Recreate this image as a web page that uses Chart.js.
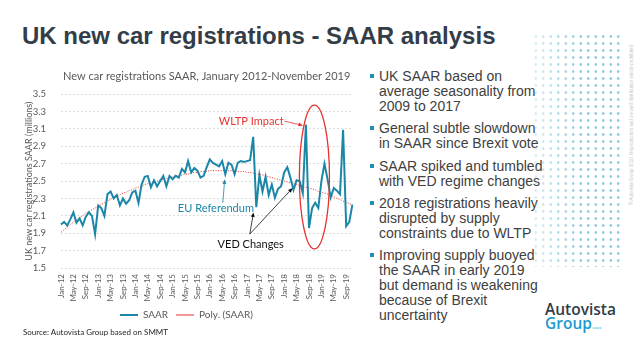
<!DOCTYPE html>
<html>
<head>
<meta charset="utf-8">
<script src="https://cdn.jsdelivr.net/npm/chart.js@4"></script>
<style>
  html, body { margin: 0; padding: 0; }
  body { width: 640px; height: 360px; position: relative; overflow: hidden; background: #fff; font-family: "Liberation Sans", Arial, sans-serif; }
  #title { position: absolute; left: 22px; top: 24px; font-size: 24px; line-height: 24px; font-weight: bold; color: #333d47; white-space: nowrap; }
  #chartBox { position: absolute; left: 20px; top: 60px; width: 342px; height: 270px; }
  #source { position: absolute; left: 23px; top: 327px; font-family: Lato, sans-serif; font-size: 8px; color: #262626; }
  #points { position: absolute; left: 368px; top: 69px; width: 180px; color: #404040; font-size: 14px; line-height: 15px; }
  #points p { margin: 0 0 7.3px 11px; width: 166px; position: relative; }
  #points p::before { content: ""; position: absolute; left: -9px; top: 5px; width: 4px; height: 4px; background: #1f8fb8; }
  #dots { position: absolute; left: 532px; top: 33px; width: 90px; height: 234px;
          background-image: radial-gradient(circle, #7ec4da 1px, transparent 1.5px);
          background-size: 7.5px 7px;
          -webkit-mask-image: linear-gradient(to right, rgba(0,0,0,0.3), #000 55%); }
  #legal { position: absolute; left: 629px; top: 205px; transform-origin: 0 0; transform: rotate(-90deg); font-size: 4.5px; color: #c8c8c8; white-space: nowrap; }
  #logo { position: absolute; left: 545px; top: 302px; font-family: "Open Sans", sans-serif; font-weight: 600; font-size: 15.5px; line-height: 14px; color: #2f3d48; }
  #logo .g { color: #1d9ad0; }
  #logo .d { color: #8fd0e8; font-size: 12px; letter-spacing: -1px; }
</style>
</head>
<body>
<div id="title">UK new car registrations - SAAR analysis</div>
<div id="chartBox"><canvas id="saarChart"></canvas></div>
<div id="source">Source: Autovista Group based on SMMT</div>
<div id="points">
  <p>UK SAAR based on average seasonality from 2009 to 2017</p>
  <p>General subtle slowdown in SAAR since Brexit vote</p>
  <p>SAAR spiked and tumbled with VED regime changes</p>
  <p>2018 registrations heavily disrupted by supply constraints due to WLTP</p>
  <p>Improving supply buoyed the SAAR in early 2019 but demand is weakening because of Brexit uncertainty</p>
</div>
<div id="dots"></div>
<div id="legal">© Autovista Group 2019. Reproduction and onward distribution strictly prohibited</div>
<div id="logo">Autovista<br><span class="g">Group</span><span class="d">....</span></div>

<script>
// categories: Jan-12 .. Nov-19
const monthNames = ["Jan","Feb","Mar","Apr","May","Jun","Jul","Aug","Sep","Oct","Nov","Dec"];
const years = ["12","13","14","15","16","17","18","19"];
const months = [];
years.forEach(y => monthNames.forEach(m => months.push(m + "-" + y)));
months.length = 95;

// SAAR, millions
const saar = [
  2.00, 2.03, 1.99, 2.06, 2.14, 2.02, 2.07, 1.99, 2.09, 2.14, 2.10, 1.89,
  2.22, 2.19, 2.10, 2.35, 2.38, 2.30, 2.34, 2.22, 2.30, 2.24, 2.28, 2.37,
  2.39, 2.25, 2.46, 2.55, 2.56, 2.43, 2.51, 2.44, 2.50, 2.56, 2.44, 2.56,
  2.52, 2.56, 2.54, 2.64, 2.60, 2.73, 2.60, 2.65, 2.62, 2.54, 2.56, 2.66,
  2.75, 2.71, 2.69, 2.67, 2.73, 2.58, 2.71, 2.69, 2.58, 2.71, 2.73, 2.72,
  2.73, 2.74, 3.01, 2.20, 2.57, 2.38, 2.55, 2.34, 2.46, 2.31, 2.41, 2.44,
  2.60, 2.66, 2.54, 2.40, 2.51, 2.50, 2.36, 3.15, 1.96, 2.19, 2.25, 2.19,
  2.50, 2.70, 2.52, 2.31, 2.42, 2.39, 2.35, 3.09, 1.98, 2.03, 2.23
];

// Poly. (SAAR) trend line as drawn
const polyTrend = [
  1.91, 1.94, 1.97, 2.00, 2.03, 2.05, 2.08, 2.10, 2.13, 2.15, 2.17, 2.19,
  2.21, 2.23, 2.25, 2.27, 2.29, 2.31, 2.32, 2.34, 2.36, 2.37, 2.39, 2.40,
  2.42, 2.43, 2.44, 2.46, 2.47, 2.48, 2.49, 2.50, 2.51, 2.52, 2.53, 2.54,
  2.55, 2.56, 2.56, 2.57, 2.58, 2.58, 2.59, 2.60, 2.60, 2.61, 2.61, 2.61,
  2.62, 2.62, 2.62, 2.62, 2.62, 2.62, 2.62, 2.62, 2.62, 2.61, 2.61, 2.61,
  2.60, 2.60, 2.59, 2.58, 2.58, 2.57, 2.56, 2.55, 2.54, 2.53, 2.52, 2.51,
  2.50, 2.49, 2.48, 2.47, 2.46, 2.45, 2.44, 2.43, 2.42, 2.41, 2.40, 2.38,
  2.37, 2.36, 2.35, 2.33, 2.32, 2.30, 2.29, 2.27, 2.26, 2.24, 2.23
];

const yTicks = [1.5, 1.7, 1.9, 2.1, 2.3, 2.5, 2.7, 2.9, 3.1, 3.3, 3.5];

const TEAL = "#1b87a8";
const RED = "#e8312f";
const GREY = "#595959";

function arrow(ctx, x1, y1, x2, y2, color) {
  const a = Math.atan2(y2 - y1, x2 - x1);
  ctx.strokeStyle = color;
  ctx.fillStyle = color;
  ctx.lineWidth = 0.8;
  ctx.beginPath();
  ctx.moveTo(x1, y1);
  ctx.lineTo(x2 - 3 * Math.cos(a), y2 - 3 * Math.sin(a));
  ctx.stroke();
  ctx.beginPath();
  ctx.moveTo(x2, y2);
  ctx.lineTo(x2 - 5 * Math.cos(a - 0.4), y2 - 5 * Math.sin(a - 0.4));
  ctx.lineTo(x2 - 5 * Math.cos(a + 0.4), y2 - 5 * Math.sin(a + 0.4));
  ctx.closePath();
  ctx.fill();
}

// callouts, placed in data space (month index, SAAR value)
const callouts = {
  id: "callouts",
  afterDatasetsDraw(chart) {
    const { ctx, scales: { x, y } } = chart;
    ctx.save();
    ctx.font = "11px Lato";
    ctx.textBaseline = "middle";

    // WLTP ellipse
    const l = x.getPixelForValue(76.9), r = x.getPixelForValue(86.6);
    const t = y.getPixelForValue(3.375), b = y.getPixelForValue(1.72);
    ctx.strokeStyle = RED;
    ctx.lineWidth = 1.3;
    ctx.beginPath();
    ctx.ellipse((l + r) / 2, (t + b) / 2, (r - l) / 2, (b - t) / 2, 0, 0, Math.PI * 2);
    ctx.stroke();

    ctx.fillStyle = RED;
    ctx.textAlign = "right";
    ctx.fillText("WLTP Impact", x.getPixelForValue(71.8), y.getPixelForValue(3.19));
    arrow(ctx, x.getPixelForValue(72.1), y.getPixelForValue(3.19), x.getPixelForValue(78.1), y.getPixelForValue(3.14), RED);

    ctx.fillStyle = TEAL;
    ctx.textAlign = "left";
    ctx.fillText("EU Referendum", x.getPixelForValue(37.7), y.getPixelForValue(2.19));
    arrow(ctx, x.getPixelForValue(52.2), y.getPixelForValue(2.25), x.getPixelForValue(52.8), y.getPixelForValue(2.52), TEAL);

    ctx.fillStyle = "#111";
    ctx.textAlign = "center";
    ctx.fillText("VED Changes", x.getPixelForValue(61.2), y.getPixelForValue(1.77));
    arrow(ctx, x.getPixelForValue(60.9), y.getPixelForValue(1.89), x.getPixelForValue(62.1), y.getPixelForValue(2.14), "#111");
    arrow(ctx, x.getPixelForValue(60.9), y.getPixelForValue(1.89), x.getPixelForValue(74.7), y.getPixelForValue(2.42), "#111");
    ctx.restore();
  }
};

Chart.defaults.font.family = "Lato";
Chart.defaults.color = GREY;

new Chart(document.getElementById("saarChart"), {
  type: "line",
  data: {
    labels: months,
    datasets: [
      { label: "SAAR", data: saar, borderColor: TEAL, backgroundColor: TEAL, borderWidth: 2, pointRadius: 0, tension: 0 },
      { label: "Poly. (SAAR)", data: polyTrend, borderColor: RED, backgroundColor: RED, borderWidth: 1, borderDash: [1, 1.5], pointRadius: 0, tension: 0.3 }
    ]
  },
  options: {
    responsive: true,
    maintainAspectRatio: false,
    animation: false,
    layout: { padding: { left: 0, right: 9, top: 0, bottom: 0 } },
    plugins: {
      title: { display: true, fullSize: false, text: "New car registrations SAAR, January 2012-November 2019", color: GREY, font: { size: 11, weight: "normal" }, padding: { top: 10, bottom: 11 } },
      legend: {
        position: "bottom",
        labels: { usePointStyle: true, pointStyle: "line", pointStyleWidth: 18, color: GREY, font: { size: 10 }, padding: 8 }
      },
      tooltip: { enabled: false }
    },
    scales: {
      x: {
        afterFit: s => { s.height = 34; },
        grid: { display: false, drawTicks: false },
        border: { display: false },
        ticks: {
          autoSkip: false, minRotation: 90, maxRotation: 90, padding: 6, font: { size: 8 },
          callback: function (v, i) { return i % 4 === 0 ? this.getLabelForValue(v) : null; }
        }
      },
      y: {
        min: 1.5, max: 3.5,
        afterFit: s => { s.width = 41; },
        afterBuildTicks: s => { s.ticks = yTicks.map(v => ({ value: v })); },
        grid: { color: "#d4d4d4", drawTicks: false, lineWidth: 0.8 },
        border: { display: false, dash: [2, 2] },
        ticks: { padding: 15, font: { size: 9.5 }, callback: v => v.toFixed(1) },
        title: { display: true, text: "UK new car registrations SAAR (millions)", color: GREY, font: { size: 9 }, padding: { top: 4 } }
      }
    }
  },
  plugins: [callouts]
});
</script>
</body>
</html>
